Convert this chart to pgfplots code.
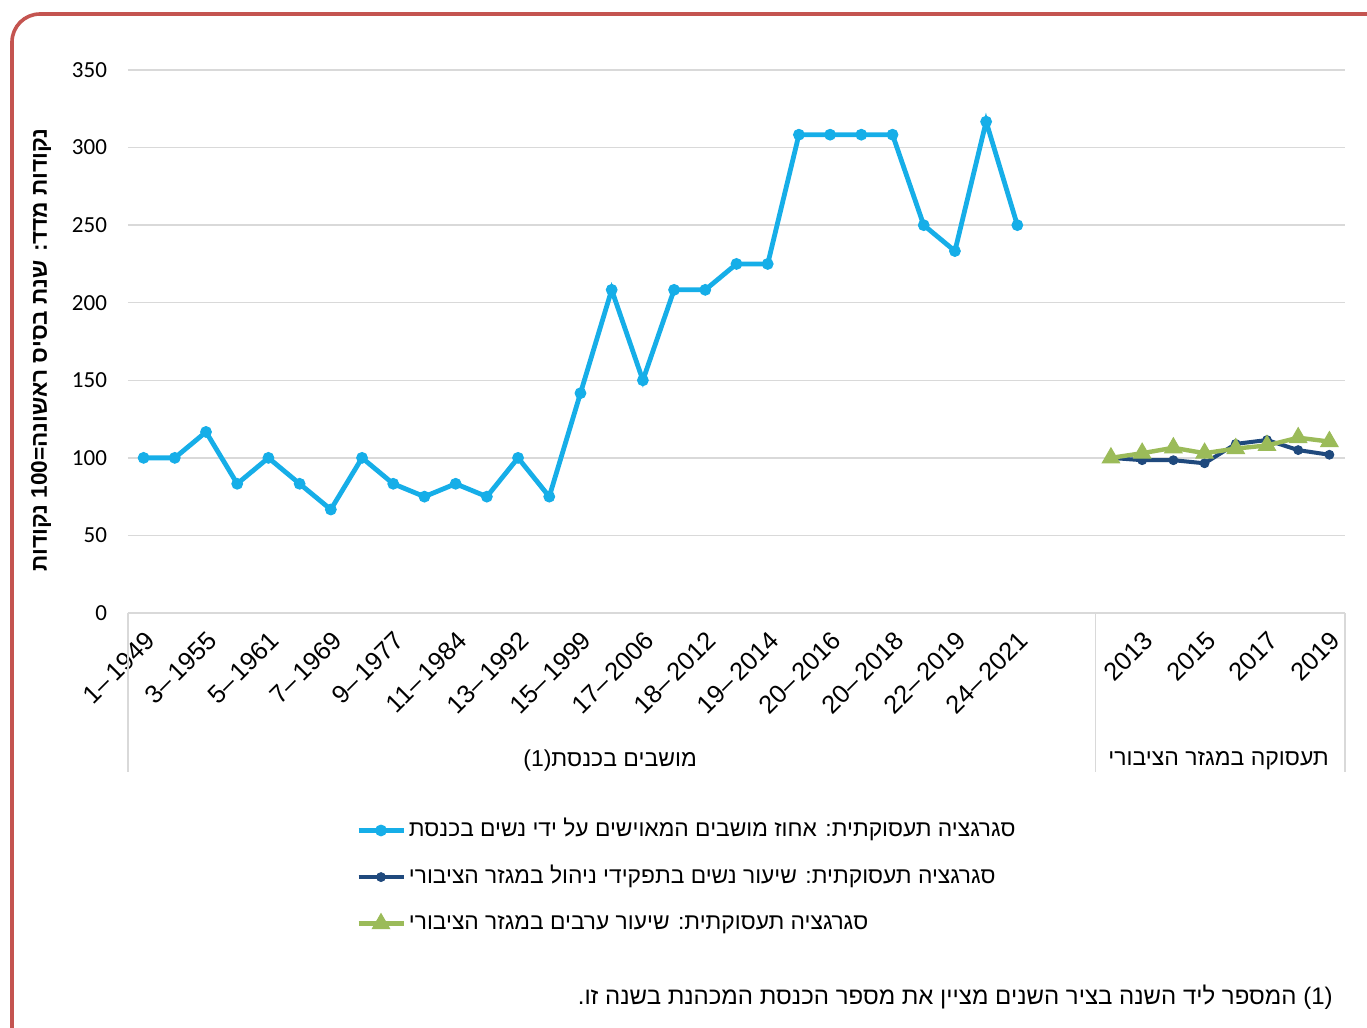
\documentclass[border=0pt]{standalone}
\usepackage{fontspec}
\setmainfont{Liberation Sans}
\newfontfamily\heb[Script=Hebrew]{Liberation Sans}
\newfontfamily\calib{Carlito}
\usepackage{pgfplots}
\pgfplotsset{compat=1.18}
\TeXXeTstate=1
\definecolor{lblue}{RGB}{22,174,232}
\definecolor{dblue}{RGB}{31,73,125}
\definecolor{lgreen}{RGB}{155,187,89}
\definecolor{gridgray}{RGB}{217,217,217}
\definecolor{framered}{RGB}{196,84,80}
\begin{document}
\begin{tikzpicture}[x=0.5pt,y=-0.5pt]
\path[use as bounding box] (0,0) rectangle (1367,1028);
\begin{scope}
\clip (0,0) rectangle (1367,1028);
\fill[white] (0,0) rectangle (1367,1028);
\draw[framered, line width=1.8pt, rounded corners=14pt] (12,14) rectangle (1420,1080);
\end{scope}
\begin{axis}[
  at={(64pt,-306.5pt)}, anchor=south west,
  width=608.5pt, height=271.5pt, scale only axis,
  xmin=-0.5, xmax=38.5, ymin=0, ymax=350,
  ytick={0,50,...,350},
  xtick={0,2,...,38},
  xticklabels={1–\,1949,3–\,1955,5–\,1961,7–\,1969,9–\,1977,11–\,1984,13–\,1992,15–\,1999,17–\,2006,18–\,2012,19–\,2014,20–\,2016,20–\,2018,22–\,2019,24–\,2021,{},2013,2015,2017,2019},
  axis x line*=bottom, axis y line*=left,
  x axis line style={draw=gridgray, line width=0.75pt, -},
  y axis line style={draw=none},
  major tick length=0pt,
  ymajorgrids, grid style={gridgray, line width=0.75pt},
  /pgf/number format/assume math mode=true,
  yticklabel style={font=\calib\fontsize{11.5}{12}\selectfont, anchor=east, xshift=-7pt},
  xticklabel style={font=\fontsize{12.7}{14}\selectfont, rotate=45, anchor=north east, inner sep=5.8pt},
  clip=false,
  legend style={at={(axis description cs:0.1871,-0.374)}, anchor=north west, draw=none, fill=none,
    font=\heb\fontsize{11.4}{13}\selectfont, row sep=9.3pt, inner sep=0pt,
    nodes={inner sep=1.5pt, text height=8.5pt, text depth=2.5pt}},
  legend cell align=left,
  legend image code/.code={\draw[mark repeat=2,mark phase=2] plot coordinates {(0pt,0pt) (11.25pt,0pt) (22.5pt,0pt)};},
]
\addplot[color=lblue, line width=2.4pt, mark=*, mark size=2.7pt, mark options={line width=0.5pt}] coordinates {
(0,100) (1,100) (2,116.7) (3,83.3) (4,100) (5,83.3) (6,66.7) (7,100) (8,83.3) (9,75)
(10,83.3) (11,75) (12,100) (13,75) (14,141.7) (15,208.3) (16,150) (17,208.3) (18,208.3) (19,225)
(20,225) (21,308.3) (22,308.3) (23,308.3) (24,308.3) (25,250) (26,233.3) (27,316.7) (28,250)};
\addlegendentry{\beginR סגרגציה תעסוקתית: אחוז מושבים המאוישים על ידי נשים בכנסת\endR}
\addplot[color=dblue, line width=2pt, mark=*, mark size=2.2pt, mark options={line width=0.5pt}] coordinates {
(31,100) (32,98.5) (33,98.5) (34,96.5) (35,109) (36,111.5) (37,105) (38,102)};
\addlegendentry{\beginR סגרגציה תעסוקתית: שיעור נשים בתפקידי ניהול במגזר הציבורי\endR}
\addplot[color=lgreen, line width=2.2pt, mark=triangle*, mark size=5pt, mark options={line width=0.5pt}] coordinates {
(31,100) (32,103) (33,106.5) (34,103) (35,106) (36,108) (37,113) (38,110.5)};
\addlegendentry{\beginR סגרגציה תעסוקתית: שיעור ערבים במגזר הציבורי\endR}
\draw[gridgray, line width=0.75pt] (axis cs:-0.5,0) -- ++(0pt,-79.5pt);
\draw[gridgray, line width=0.75pt] (axis cs:30.5,0) -- ++(0pt,-79.5pt);
\draw[gridgray, line width=0.75pt] (axis cs:38.5,0) -- ++(0pt,-79.5pt);
\node[font=\fontsize{11.5}{13}\selectfont] at ([yshift=-74pt]axis cs:14.95,0) {(1)\heb\beginR מושבים בכנסת\endR};
\node[font=\heb\fontsize{11.5}{13}\selectfont] at ([yshift=-74pt]axis cs:34.45,0) {\beginR תעסוקה במגזר הציבורי\endR};
\end{axis}
\node[rotate=90, font=\heb\bfseries\fontsize{11.3}{12}\selectfont] at (41,350) {\beginR נקודות מדד: שנת בסיס ראשונה\beginL=100\endL{} נקודות\endR};
\node[anchor=east, inner sep=0pt, font=\heb\fontsize{12}{13}\selectfont] at (1333,997) {.\beginR המספר ליד השנה בציר השנים מציין את מספר הכנסת המכהנת בשנה זו\endR\ (1)};
\end{tikzpicture}
\end{document}
